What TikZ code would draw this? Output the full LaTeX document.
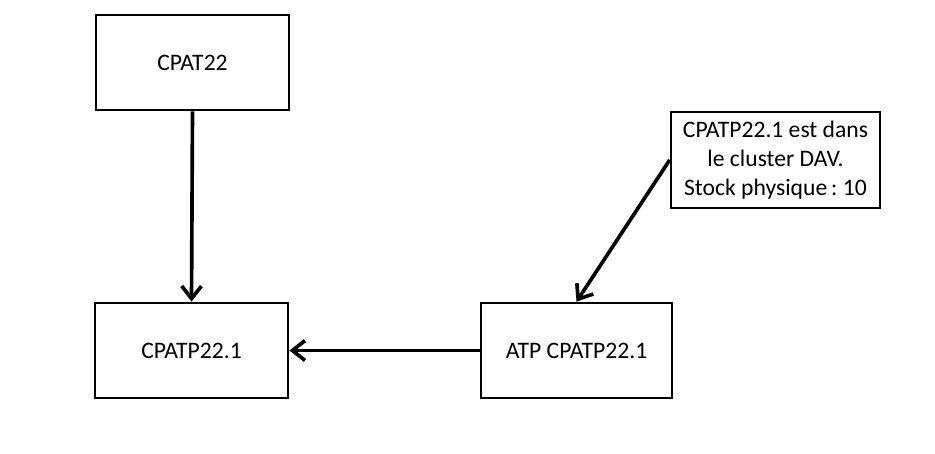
\documentclass[tikz,border=0pt]{standalone}
\usepackage{fontspec}
\setmainfont{Carlito}
\usetikzlibrary{arrows.meta}

\begin{document}
\begin{tikzpicture}[x=0.025cm, y=-0.025cm, >={Straight Barb[length=9pt, width=14pt]}]

        % --- Styles ---
        \tikzset{
            itembox/.style={draw=black, line width=1.9pt, fill=white, minimum width=193*0.025cm, minimum height=95*0.025cm, inner sep=0pt, font=\fontsize{16.8}{20.5}\selectfont},
            notebox/.style={draw=black, line width=1.9pt, fill=white, minimum width=209*0.025cm, minimum height=96*0.025cm, inner sep=0pt, align=center, font=\fontsize{16.8}{20.6}\selectfont},
            link/.style={->, line width=2.6pt, black}
        }

        % --- Cadre ---
        \useasboundingbox (0,0) rectangle (935,454);

        % --- Boîtes ---
        \node[itembox] (cpat) at (192.5,62.5) {CPAT22};
        \node[itembox] (cpatp) at (191.5,350.5) {CPATP22.1};
        \node[itembox, minimum width=191*0.025cm] (atp) at (576.5,350.5) {ATP CPATP22.1};
        \node[notebox] (note) at (775.5,160) {CPATP22.1 est dans\\le cluster DAV.\\Stock physique\,:\ 10};

        % --- Flèches ---
        \draw[link] (cpat.south) -- (cpatp.north);
        \draw[link] (atp.west) -- (cpatp.east);
        \draw[link] (note.west) -- (atp.north);

\end{tikzpicture}
\end{document}
